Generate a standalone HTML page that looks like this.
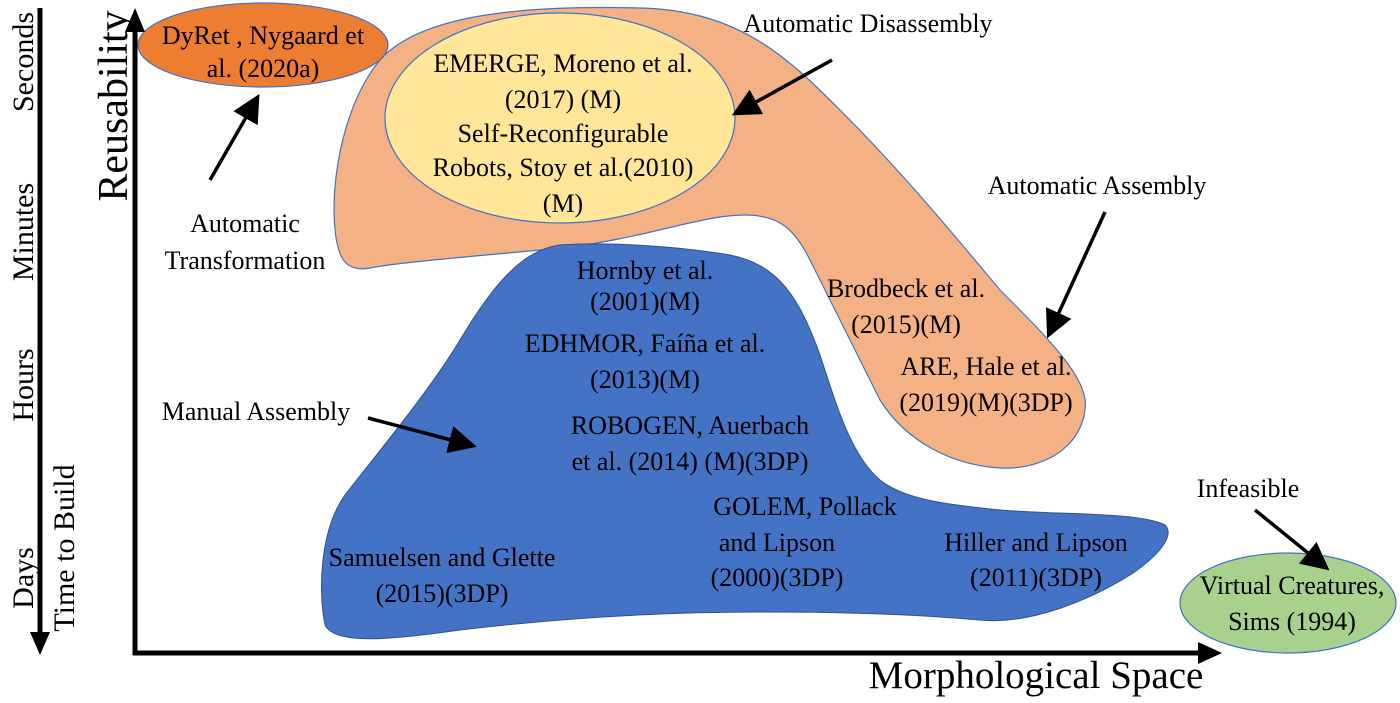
<!DOCTYPE html>
<html><head><meta charset="utf-8"><style>
html,body{margin:0;padding:0;background:#fff;}
svg text{font-family:"Liberation Serif",serif;fill:#000;}
</style></head><body>
<svg width="1400" height="698" viewBox="0 0 1400 698" xmlns="http://www.w3.org/2000/svg">
<defs>
<marker id="ah" markerWidth="8" markerHeight="8" refX="6" refY="4" orient="auto" markerUnits="strokeWidth">
<path d="M0,0 L8,4 L0,8 z" fill="#000"/></marker>
</defs>
<path d="M345,262 C325,240 330,120 380,60 C420,15 520,5 640,8 C740,10 790,60 840,110 C900,170 950,230 1000,290 C1050,340 1090,380 1085,410 C1080,450 1040,470 1000,468 C950,465 905,440 880,400 C860,360 830,300 810,260 C795,230 780,215 745,215 C700,215 640,240 560,248 C480,256 400,262 370,268 C360,270 350,268 345,262 Z" fill="#F4B183" stroke="#4472C4" stroke-width="1.2"/>
<ellipse cx="560" cy="118" rx="175" ry="105" fill="#FFE699" stroke="#4472C4" stroke-width="1.2"/>
<path d="M560,245 C520,250 490,290 460,340 C430,390 380,450 345,495 C320,530 318,590 325,625 C335,645 390,640 460,630 C560,618 660,612 760,612 C860,612 920,615 980,620 C1030,625 1090,600 1130,575 C1160,555 1175,535 1165,525 C1140,512 1060,515 1000,510 C950,505 905,500 880,480 C850,455 835,400 820,355 C800,300 780,265 730,255 C670,245 600,242 560,245 Z" fill="#4472C4" stroke="#2F528F" stroke-width="1"/>
<ellipse cx="263" cy="45" rx="125" ry="42" fill="#ED7D31" stroke="#4472C4" stroke-width="1.2"/>
<ellipse cx="1288" cy="603" rx="108" ry="50" fill="#A9D18E" stroke="#4472C4" stroke-width="1.2"/>

<line x1="40" y1="8" x2="40" y2="635" stroke="#000" stroke-width="5"/>
<path d="M30,632 L50,632 L40,655 Z" fill="#000"/>
<line x1="135" y1="655" x2="135" y2="30" stroke="#000" stroke-width="5"/>
<path d="M125,32 L145,32 L135,8 Z" fill="#000"/>
<line x1="133" y1="653" x2="1200" y2="653" stroke="#000" stroke-width="5"/>
<path d="M1198,642 L1222,653 L1198,664 Z" fill="#000"/>

<g font-size="30">
<text transform="translate(33,62) rotate(-90)" text-anchor="middle">Seconds</text>
<text transform="translate(33,232) rotate(-90)" text-anchor="middle">Minutes</text>
<text transform="translate(33,385) rotate(-90)" text-anchor="middle">Hours</text>
<text transform="translate(33,578) rotate(-90)" text-anchor="middle">Days</text>
<text transform="translate(74,548) rotate(-90)" text-anchor="middle">Time to Build</text>
</g>
<text transform="translate(127,106) rotate(-90)" text-anchor="middle" font-size="42">Reusability</text>
<text x="1036" y="688" text-anchor="middle" font-size="39">Morphological Space</text>

<g font-size="26" text-anchor="middle">
<text x="263" y="44">DyRet , Nygaard et</text>
<text x="263" y="77">al. (2020a)</text>
<text x="563" y="72">EMERGE, Moreno et al.</text>
<text x="563" y="108">(2017) (M)</text>
<text x="563" y="142">Self-Reconfigurable</text>
<text x="563" y="176">Robots, Stoy et al.(2010)</text>
<text x="563" y="212">(M)</text>
<text x="245" y="232">Automatic</text>
<text x="245" y="269">Transformation</text>
<text x="868" y="32">Automatic Disassembly</text>
<text x="1097" y="194">Automatic Assembly</text>
<text x="906" y="297">Brodbeck et al.</text>
<text x="906" y="333">(2015)(M)</text>
<text x="986" y="375">ARE, Hale et al.</text>
<text x="986" y="411">(2019)(M)(3DP)</text>
<text x="645" y="279">Hornby et al.</text>
<text x="645" y="310">(2001)(M)</text>
<text x="645" y="352">EDHMOR, Faíña et al.</text>
<text x="645" y="388">(2013)(M)</text>
<text x="690" y="434">ROBOGEN, Auerbach</text>
<text x="690" y="470">et al. (2014) (M)(3DP)</text>
<text x="256" y="420">Manual Assembly</text>
<text x="805" y="515">GOLEM, Pollack</text>
<text x="777" y="551">and Lipson</text>
<text x="777" y="586">(2000)(3DP)</text>
<text x="1036" y="551">Hiller and Lipson</text>
<text x="1036" y="586">(2011)(3DP)</text>
<text x="442" y="566">Samuelsen and Glette</text>
<text x="442" y="602">(2015)(3DP)</text>
<text x="1248" y="497">Infeasible</text>
<text x="1292" y="594">Virtual Creatures,</text>
<text x="1292" y="630">Sims (1994)</text>
</g>

<g stroke="#000" stroke-width="3.5" fill="none">
<line x1="210" y1="180" x2="256" y2="100" marker-end="url(#ah)"/>
<line x1="832" y1="60" x2="738" y2="112" marker-end="url(#ah)"/>
<line x1="1105" y1="212" x2="1050" y2="332" marker-end="url(#ah)"/>
<line x1="368" y1="418" x2="470" y2="445" marker-end="url(#ah)"/>
<line x1="1255" y1="510" x2="1324" y2="566" marker-end="url(#ah)"/>
</g>
</svg>
</body></html>
